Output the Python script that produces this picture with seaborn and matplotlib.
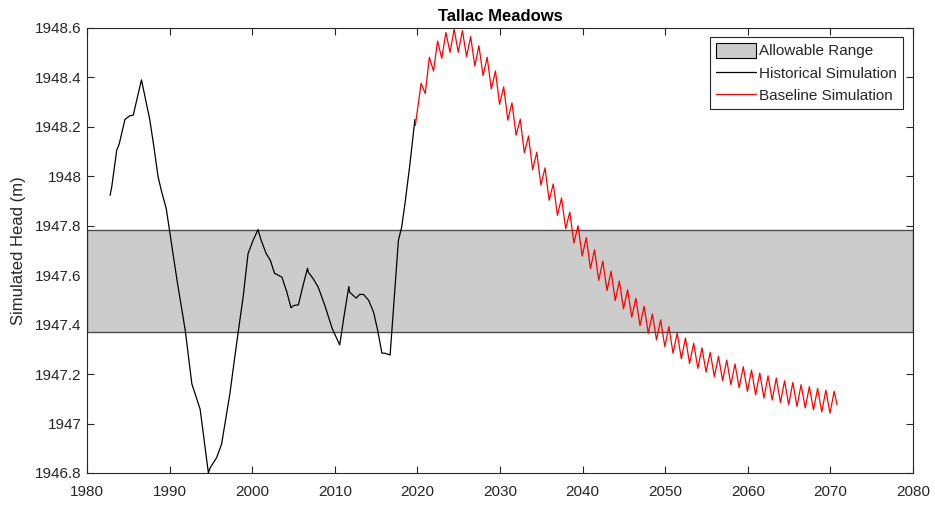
import numpy as np
import pandas as pd
import matplotlib
matplotlib.use("Agg")
import matplotlib.pyplot as plt
import seaborn as sns
from matplotlib.patches import Patch
from matplotlib.lines import Line2D
from matplotlib.ticker import FormatStrFormatter, MultipleLocator

# ---------------- data ----------------
title = "Tallac Meadows"
ylabel = "Simulated Head (m)"
legend_labels = ["Allowable Range", "Historical Simulation", "Baseline Simulation"]

allowable_low = 1947.372
allowable_high = 1947.781

hist_years = [1982.8, 1983.0, 1983.6, 1983.9, 1984.6, 1985.2, 1985.6, 1986.6, 1987.1, 1987.6,
              1988.1, 1988.6, 1989.0, 1989.6, 1990.0, 1990.9, 1991.9, 1992.7, 1993.7, 1994.7,
              1994.9, 1995.7, 1996.3, 1996.7, 1997.3, 1997.9, 1998.5, 1998.9, 1999.5, 2000.1,
              2000.7, 2001.1, 2001.7, 2002.2, 2002.7, 2003.2, 2003.6, 2004.2, 2004.7, 2005.0,
              2005.6, 2006.1, 2006.7, 2006.8, 2007.4, 2008.0, 2008.8, 2009.7, 2010.6, 2011.1,
              2011.7, 2011.8, 2012.6, 2013.0, 2013.5, 2014.1, 2014.7, 2015.2, 2015.7, 2016.1,
              2016.7, 2017.7, 2018.1, 2018.5, 2019.1, 2019.7]
hist_head = [1947.923, 1947.957, 1948.105, 1948.130, 1948.230, 1948.245, 1948.247, 1948.390, 1948.310, 1948.230,
             1948.120, 1948.000, 1947.943, 1947.869, 1947.780, 1947.580, 1947.376, 1947.160, 1947.058, 1946.800,
             1946.820, 1946.862, 1946.917, 1946.998, 1947.120, 1947.270, 1947.416, 1947.510, 1947.687, 1947.740,
             1947.784, 1947.740, 1947.687, 1947.660, 1947.608, 1947.599, 1947.592, 1947.531, 1947.468, 1947.477,
             1947.480, 1947.551, 1947.628, 1947.612, 1947.585, 1947.551, 1947.477, 1947.383, 1947.318, 1947.430,
             1947.554, 1947.531, 1947.507, 1947.522, 1947.522, 1947.498, 1947.450, 1947.376, 1947.285, 1947.284,
             1947.277, 1947.740, 1947.795, 1947.890, 1948.050, 1948.230]

# baseline: start point, then yearly seasonal peak and following trough (years 2020-2070)
base_start_year = 2019.75
base_start_head = 1948.205
base_cycle_years = list(range(2020, 2071))
base_peaks = [1948.376, 1948.481, 1948.547, 1948.582, 1948.595, 1948.589, 1948.565, 1948.528, 1948.481, 1948.426,
              1948.362, 1948.297, 1948.231, 1948.163, 1948.097, 1948.034, 1947.969, 1947.912, 1947.855, 1947.800,
              1947.752, 1947.703, 1947.657, 1947.616, 1947.576, 1947.541, 1947.507, 1947.474, 1947.443, 1947.419,
              1947.392, 1947.366, 1947.346, 1947.325, 1947.306, 1947.288, 1947.272, 1947.257, 1947.241, 1947.230,
              1947.216, 1947.204, 1947.193, 1947.184, 1947.173, 1947.166, 1947.157, 1947.149, 1947.142, 1947.135,
              1947.130]
base_troughs = [1948.335, 1948.426, 1948.477, 1948.501, 1948.501, 1948.484, 1948.446, 1948.407, 1948.353, 1948.291,
                1948.227, 1948.166, 1948.095, 1948.027, 1947.964, 1947.903, 1947.842, 1947.788, 1947.730, 1947.678,
                1947.627, 1947.579, 1947.538, 1947.497, 1947.464, 1947.430, 1947.396, 1947.365, 1947.338, 1947.311,
                1947.284, 1947.262, 1947.243, 1947.223, 1947.208, 1947.189, 1947.173, 1947.157, 1947.144, 1947.130,
                1947.116, 1947.103, 1947.095, 1947.085, 1947.076, 1947.069, 1947.063, 1947.055, 1947.047, 1947.042,
                1947.076]

x_ticks = [1980, 1990, 2000, 2010, 2020, 2030, 2040, 2050, 2060, 2070, 2080]

# ---------------- build tables ----------------
hist_df = pd.DataFrame({"year": hist_years, "head": hist_head})

peak_t = np.array(base_cycle_years) + 0.45
trough_t = np.array(base_cycle_years) + 0.95
trough_t[-1] = 2070.8
bx = [base_start_year]
by = [base_start_head]
for pt, pv, tt, tv in zip(peak_t, base_peaks, trough_t, base_troughs):
    bx += [pt, tt]
    by += [pv, tv]
base_df = pd.DataFrame({"year": bx, "head": by})

# ---------------- style ----------------
sns.set_style("ticks")
plt.rcParams["font.family"] = ["Liberation Sans", "DejaVu Sans"]
axcol = "#262626"

fig = plt.figure(figsize=(9.35, 5.08), dpi=100)
ax = fig.add_axes([0.093, 0.069, 0.8835, 0.876])

ax.axhspan(allowable_low, allowable_high, facecolor="#cccccc", edgecolor="#4d4d4d",
           linewidth=1.0, zorder=1)

sns.lineplot(data=hist_df, x="year", y="head", ax=ax, color="black", linewidth=0.9,
             estimator=None, sort=False, zorder=3)
sns.lineplot(data=base_df, x="year", y="head", ax=ax, color="#ff0000", linewidth=0.9,
             estimator=None, sort=False, zorder=3)

ax.set_xlim(1980, 2080)
ax.set_ylim(1946.8, 1948.6)
ax.set_xticks(x_ticks)
ax.yaxis.set_major_locator(MultipleLocator(0.2))
ax.yaxis.set_major_formatter(FormatStrFormatter("%g"))
ax.xaxis.set_major_formatter(FormatStrFormatter("%d"))

ax.tick_params(direction="in", top=True, right=True, length=5, width=0.8,
               colors=axcol, labelsize=11, labelcolor=axcol)
ax.tick_params(axis="x", pad=8.5)
ax.tick_params(axis="y", pad=4)
for s in ax.spines.values():
    s.set_visible(True)
    s.set_color(axcol)
    s.set_linewidth(0.8)

ax.set_xlabel("")
ax.set_ylabel(ylabel, fontsize=12, color=axcol, labelpad=6)
ax.set_title(title, fontsize=12, fontweight="bold", color="black", pad=5)

handles = [Patch(facecolor="#cccccc", edgecolor="black", linewidth=0.8),
           Line2D([0], [0], color="black", linewidth=0.9),
           Line2D([0], [0], color="#ff0000", linewidth=0.9)]
leg = ax.legend(handles, legend_labels, loc="upper right", bbox_to_anchor=(0.988, 0.98),
                fontsize=11, frameon=True, fancybox=False, framealpha=1,
                edgecolor="#262626", handlelength=2.6, handleheight=1.1, handletextpad=0.2,
                borderpad=0.4, labelspacing=0.45, borderaxespad=0)
leg.get_frame().set_linewidth(0.8)

fig.savefig("out.png", dpi=100)
